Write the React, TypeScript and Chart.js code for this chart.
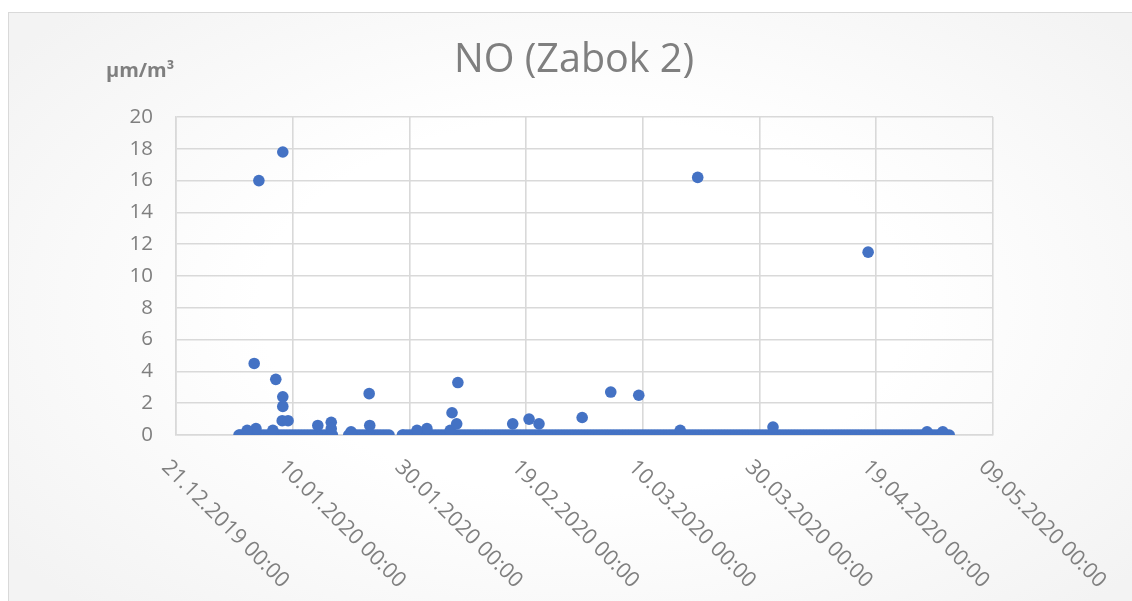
import React, { useEffect, useRef } from "react";
import { Chart, registerables } from "chart.js";

Chart.register(...registerables);

// X axis: days counted from 21.12.2019 00:00
const xTickLabels = [
  "21.12.2019 00:00",
  "10.01.2020 00:00",
  "30.01.2020 00:00",
  "19.02.2020 00:00",
  "10.03.2020 00:00",
  "30.03.2020 00:00",
  "19.04.2020 00:00",
  "09.05.2020 00:00",
];
const xMin = 0;
const xMax = 140;
const xStep = 20;
const yMin = 0;
const yMax = 20;
const yStep = 2;

// readings at zero (day offsets)
const zeroDays = [
  10.8, 11, 11.5, 12, 12.5, 13, 13.5, 14, 14.5, 15, 15.5, 16, 16.5, 17, 17.5,
  18, 18.5, 19, 19.5, 20, 20.5, 21, 21.5, 22, 22.5, 23, 23.5, 24, 24.5, 25,
  25.5, 26, 26.5, 26.8,
  29.6, 30, 30.5, 31, 31.5, 32, 32.5, 33, 33.5, 34, 34.5, 35, 35.5, 36, 36.5,
  38.8, 39, 39.5, 40, 40.5, 41, 41.5, 42, 42.5, 43, 43.5, 44, 44.5, 45, 45.5,
  46, 46.5, 47, 47.5, 48, 48.5, 49, 49.5, 50, 50.5, 51, 51.5, 52, 52.5, 53,
  53.5, 54, 54.5, 55, 55.5, 56, 56.5, 57, 57.5, 58, 58.5, 59, 59.5, 60, 60.5,
  61, 61.5, 62, 62.5, 63, 63.5, 64, 64.5, 65, 65.5, 66, 66.5, 67, 67.5, 68,
  68.5, 69, 69.5, 70, 70.5, 71, 71.5, 72, 72.5, 73, 73.5, 74, 74.5, 75, 75.5,
  76, 76.5, 77, 77.5, 78, 78.5, 79, 79.5, 80, 80.5, 81, 81.5, 82, 82.5, 83,
  83.5, 84, 84.5, 85, 85.5, 86, 86.5, 87, 87.5, 88, 88.5, 89, 89.5, 90, 90.5,
  91, 91.5, 92, 92.5, 93, 93.5, 94, 94.5, 95, 95.5, 96, 96.5, 97, 97.5, 98,
  98.5, 99, 99.5, 100, 100.5, 101, 101.5, 102, 102.5, 103, 103.5, 104, 104.5,
  105, 105.5, 106, 106.5, 107, 107.5, 108, 108.5, 109, 109.5, 110, 110.5, 111,
  111.5, 112, 112.5, 113, 113.5, 114, 114.5, 115, 115.5, 116, 116.5, 117,
  117.5, 118, 118.5, 119, 119.5, 120, 120.5, 121, 121.5, 122, 122.5, 123,
  123.5, 124, 124.5, 125, 125.5, 126, 126.5, 127, 127.5, 128, 128.5, 129,
  129.5, 130, 130.5, 131, 131.5, 132, 132.5,
];

// non-zero readings
const peakDays = [
  13.4, 14.2, 18.3, 17.1, 18.3, 18.3, 18.2, 19.2, 13.7, 12.2, 16.6, 24.3, 26.6,
  26.6, 33.1, 33.2, 30.0, 43.0, 41.3, 47.0, 47.3, 48.3, 48.1, 57.7, 60.5, 62.2,
  69.6, 74.5, 79.3, 86.4, 89.4, 102.3, 118.6, 128.7, 131.4,
];
const peakValues = [
  4.5, 16.0, 17.8, 3.5, 2.4, 1.8, 0.9, 0.9, 0.4, 0.3, 0.3, 0.6, 0.8,
  0.4, 2.6, 0.6, 0.2, 0.4, 0.3, 0.3, 1.4, 3.3, 0.7, 0.7, 1.0, 0.7,
  1.1, 2.7, 2.5, 0.3, 16.2, 0.5, 11.5, 0.2, 0.2,
];

const chartTitle = "NO (Zabok 2)";
const unitLabel = "μm/m³";

const GRAY = "#7f7f7f";
const GRID = "#d9d9d9";
const BLUE = "#4472C4";

const W = 1132;
const H = 601;

const textPlugin = {
  id: "textPlugin",
  afterDraw(chart: any) {
    const ctx = chart.ctx;
    const xs = chart.scales.x;
    const area = chart.chartArea;
    ctx.save();
    // title
    ctx.fillStyle = GRAY;
    ctx.font = '39.5px "Open Sans"';
    ctx.textAlign = "center";
    ctx.textBaseline = "alphabetic";
    ctx.fillText(chartTitle, 574, 72);
    // unit
    ctx.font = 'bold 20px "Open Sans"';
    ctx.textAlign = "left";
    ctx.fillText(unitLabel, 106, 77);
    // x tick labels, rotated 45deg clockwise
    ctx.font = '21.5px "Open Sans"';
    ctx.textAlign = "left";
    ctx.textBaseline = "middle";
    xs.ticks.forEach((t: any, i: number) => {
      const px = xs.getPixelForValue(t.value);
      ctx.save();
      ctx.translate(px - 11, area.bottom + 29);
      ctx.rotate(Math.PI / 4);
      ctx.fillText(xTickLabels[i] ?? "", 0, 0);
      ctx.restore();
    });
    ctx.restore();
  },
};

export default function App() {
  const ref = useRef<HTMLCanvasElement | null>(null);

  useEffect(() => {
    if (!ref.current) return;
    const points = [
      ...zeroDays.map((d) => ({ x: d, y: 0 })),
      ...peakDays.map((d, i) => ({ x: d, y: peakValues[i] })),
    ];
    const chart = new Chart(ref.current, {
      type: "scatter",
      data: {
        datasets: [
          {
            label: chartTitle,
            data: points,
            backgroundColor: BLUE,
            borderColor: BLUE,
            borderWidth: 0,
            pointRadius: 5.8,
            pointHoverRadius: 5.8,
          },
        ],
      },
      options: {
        animation: false,
        responsive: false,
        events: [],
        layout: { padding: { left: 0, right: W - 993, top: 117, bottom: 0 } },
        plugins: {
          legend: { display: false },
          title: { display: false },
          tooltip: { enabled: false },
        },
        scales: {
          x: {
            type: "linear",
            min: xMin,
            max: xMax,
            ticks: { stepSize: xStep, display: false },
            grid: { color: GRID, lineWidth: 1.6, drawTicks: false },
            border: { color: GRID, width: 1.6 },
            afterFit: (s: any) => {
              s.height = H - 435;
            },
          },
          y: {
            min: yMin,
            max: yMax,
            ticks: {
              stepSize: yStep,
              padding: 23,
              color: GRAY,
              font: { family: "Open Sans", size: 20.5 },
            },
            grid: { color: GRID, lineWidth: 1.6, drawTicks: false },
            border: { color: GRID, width: 1.6 },
            afterFit: (s: any) => {
              s.width = 176;
            },
          },
        },
      },
      plugins: [textPlugin],
    });
    return () => chart.destroy();
  }, []);

  return (
    <div
      style={{
        position: "fixed",
        left: 0,
        top: 0,
        width: W,
        height: H,
        overflow: "hidden",
        background: "#ffffff",
      }}
    >
      <div
        style={{
          position: "absolute",
          left: 8,
          top: 12,
          width: 1200,
          height: 700,
          border: "1px solid #d9d9d9",
          boxSizing: "border-box",
          background:
            "radial-gradient(ellipse 60% 60% at 48% 42%, #ffffff 45%, #f3f3f3 100%)",
        }}
      />
      <canvas
        ref={ref}
        width={W}
        height={H}
        style={{ position: "absolute", left: 0, top: 0, width: W, height: H }}
      />
    </div>
  );
}
